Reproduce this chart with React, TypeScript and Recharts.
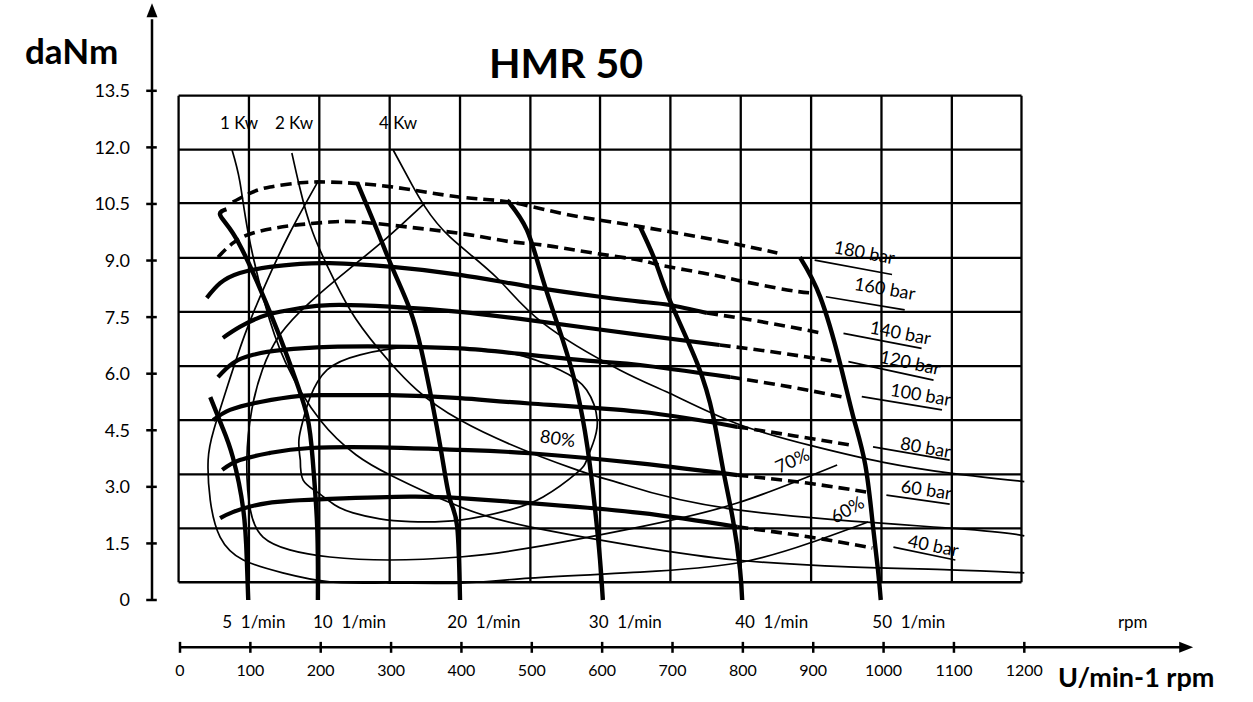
import React from "react";
import { LineChart, Line, XAxis, YAxis, ReferenceLine, ReferenceDot } from "recharts";

type P = [number, number];

const W = 1253;
const H = 702;
const FONT = "Lato, 'Noto Sans', sans-serif";

// axes
const rpmTicks = [0, 100, 200, 300, 400, 500, 600, 700, 800, 900, 1000, 1100, 1200];
const torqueTicks = [0, 1.5, 3, 4.5, 6, 7.5, 9, 10.5, 12, 13.5];

// the printed grid is not aligned with the torque ticks
const gridX = [-2, 98, 198, 298, 398, 498, 597, 697, 797, 897, 997, 1097, 1196];
const gridY = [0.47, 1.9, 3.33, 4.77, 6.2, 7.64, 9.07, 10.52, 11.94, 13.37];

// pressure curves (rpm, daNm)
const p180Dash: P[] = [[75, 10.55], [100, 10.79], [128, 10.95], [171, 11.06], [213, 11.08], [298, 10.96], [394, 10.69], [465, 10.56], [540, 10.26], [611, 10.03], [682, 9.81], [768, 9.52], [849, 9.2]];
const p160Dash: P[] = [[54, 9.09], [75, 9.46], [104, 9.73], [156, 9.92], [213, 10.02], [256, 10.02], [337, 9.86], [412, 9.68], [469, 9.5], [516, 9.41], [587, 9.2], [654, 9.01], [682, 8.88], [743, 8.67], [792, 8.48], [863, 8.22], [900, 8.14]];
const p140Solid: P[] = [[38, 8.01], [57, 8.4], [85, 8.67], [128, 8.83], [171, 8.91], [213, 8.93], [298, 8.84], [398, 8.62], [497, 8.31], [597, 8.04], [654, 7.91], [696, 7.82], [749, 7.61]];
const p140Dash: P[] = [[749, 7.61], [838, 7.34], [911, 7.08]];
const p120Solid: P[] = [[61, 6.95], [85, 7.24], [124, 7.56], [171, 7.74], [213, 7.82], [298, 7.78], [398, 7.64], [497, 7.42], [654, 7.03], [767, 6.76]];
const p120Dash: P[] = [[767, 6.76], [853, 6.55], [934, 6.31]];
const p100Solid: P[] = [[54, 5.91], [75, 6.28], [104, 6.5], [146, 6.63], [213, 6.71], [298, 6.72], [398, 6.67], [497, 6.5], [597, 6.32], [654, 6.23], [782, 5.91]];
const p100Dash: P[] = [[782, 5.91], [867, 5.65], [942, 5.38]];
const p80Solid: P[] = [[47, 4.77], [71, 5.04], [114, 5.25], [171, 5.41], [213, 5.43], [298, 5.43], [398, 5.35], [497, 5.21], [654, 4.99], [792, 4.59]];
const p80Dash: P[] = [[792, 4.59], [874, 4.35], [952, 4.11]];
const p60Solid: P[] = [[60, 3.45], [85, 3.71], [128, 3.9], [185, 4.03], [298, 4.04], [398, 3.98], [497, 3.89], [654, 3.62], [792, 3.31]];
const p60Dash: P[] = [[792, 3.31], [891, 3.1], [976, 2.86]];
const p40Solid: P[] = [[57, 2.17], [75, 2.33], [124, 2.57], [213, 2.68], [327, 2.74], [398, 2.7], [497, 2.57], [654, 2.31], [792, 1.94]];
const p40Dash: P[] = [[792, 1.94], [895, 1.67], [984, 1.38]];

// constant speed curves, top to bottom
const n5: P[] = [[43, 5.38], [60, 4.59], [75, 3.79], [90, 2.39], [95, 1.06], [97, 0]];
const n10: P[] = [[66, 10.36], [57, 10.21], [75, 9.73], [104, 8.67], [138, 7.16], [161, 6.02], [181, 4.85], [189, 3.63], [195, 1.94], [196, 0]];
const n20: P[] = [[252, 11.06], [280, 9.81], [303, 8.75], [327, 7.69], [343, 6.63], [355, 5.57], [365, 4.59], [374, 3.63], [384, 2.65], [394, 1.94], [398, 0]];
const n30: P[] = [[465, 10.6], [493, 9.81], [516, 8.48], [544, 6.89], [564, 5.57], [579, 4.06], [590, 2.39], [597, 1.06], [601, 0]];
const n40: P[] = [[654, 9.89], [675, 9.01], [696, 7.95], [735, 6.28], [758, 4.85], [772, 3.45], [786, 2.12], [796, 0.8], [799, 0]];
const n50: P[] = [[881, 9.09], [910, 8.03], [938, 6.28], [957, 4.85], [974, 3.58], [985, 1.94], [992, 0.8], [996, 0]];

// power curves
const kw1: P[] = [[74, 11.93], [85, 11.1], [97, 9.72], [120, 7.9], [150, 6.3], [200, 4.75], [250, 3.85], [300, 3.3], [398, 2.47], [497, 1.94], [654, 1.41], [791, 1.06], [950, 0.88], [1094, 0.8], [1200, 0.72]];
const kw2: P[] = [[159, 11.85], [170, 10.95], [189, 9.73], [220, 8.45], [250, 7.45], [298, 6.31], [398, 4.77], [564, 3.45], [625, 3.1], [792, 2.39], [1100, 1.9], [1200, 1.7]];
const kw4: P[] = [[303, 11.93], [330, 11.0], [348, 10.43], [384, 9.62], [450, 8.55], [516, 7.34], [625, 6.1], [696, 5.48], [791, 4.68], [900, 4.08], [1000, 3.65], [1100, 3.35], [1200, 3.14]];

// efficiency contours
const eff80: P[] = [[171, 3.71], [175, 3.18], [195, 2.86], [220, 2.52], [246, 2.31], [284, 2.15], [327, 2.08], [398, 2.12], [469, 2.39], [516, 2.73], [564, 3.37], [578, 3.71], [587, 4.15], [593, 4.77], [578, 5.57], [540, 6.1], [469, 6.55], [398, 6.68], [327, 6.71], [256, 6.5], [209, 6.1], [185, 5.38], [175, 4.77], [169, 4.24], [171, 3.71]];
const eff70: P[] = [[348, 10.52], [294, 9.6], [242, 8.8], [185, 7.9], [142, 7.03], [117, 6.1], [102, 5.04], [95, 3.71], [100, 2.39], [118, 1.67], [156, 1.33], [213, 1.14], [298, 1.06], [398, 1.14], [497, 1.38], [654, 1.94], [792, 2.57], [934, 3.58]];
const eff60: P[] = [[195, 11.06], [156, 9.73], [121, 8.35], [92, 7.03], [68, 5.7], [48, 4.51], [40, 3.71], [43, 2.65], [57, 1.67], [90, 1.06], [146, 0.72], [213, 0.48], [298, 0.45], [398, 0.45], [497, 0.58], [654, 0.74], [792, 0.98], [895, 1.51], [978, 2.07]];

// pressure labels and their underlines
const barNames = ["180 bar", "160 bar", "140 bar", "120 bar", "100 bar", "80 bar", "60 bar", "40 bar"];
const barLabelAt: P[] = [[973, 9.23], [1002, 8.27], [1024, 7.1], [1038, 6.31], [1053, 5.46], [1060, 4.06], [1061, 2.94], [1071, 1.46]];
const barLabelRot = [10.5, 9.6, 10.8, 12, 9.5, 10, 8.3, 11.6];
const barUnderlines: P[][] = [
  [[902, 9.01], [1012, 8.63]],
  [[918, 8.04], [1030, 7.69]],
  [[943, 7.07], [1054, 6.67]],
  [[950, 6.32], [1071, 5.83]],
  [[969, 5.39], [1083, 5.04]],
  [[985, 4.06], [1094, 3.71]],
  [[1004, 2.78], [1094, 2.54]],
  [[1014, 1.4], [1102, 1.06]],
];

const effNames = ["80%", "70%", "60%"];
const effLabelAt: P[] = [[537, 4.3], [870, 3.71], [948, 2.41]];
const effLabelRot = [8, -25, -30];

const kwNames = ["1 Kw", "2 Kw", "4 Kw"];
const kwLabelAt: P[] = [[84, 12.65], [162, 12.65], [310, 12.65]];

const speedNames = ["5  1/min", "10  1/min", "20  1/min", "30  1/min", "40  1/min", "50  1/min", "rpm"];
const speedLabelX = [60, 189, 380, 581, 789, 984, 1333];
const speedLabelY = -0.58;

const toPts = (arr: P[]) => arr.map(([x, y]) => ({ x, y }));

const thick = 4.2;
const thin = 1.7;
const dash = "11 6";

const solidPressure = [p140Solid, p120Solid, p100Solid, p80Solid, p60Solid, p40Solid];
const dashedPressure = [p180Dash, p160Dash, p140Dash, p120Dash, p100Dash, p80Dash, p60Dash, p40Dash];
const speeds = [n5, n10, n20, n30, n40, n50];
const powers = [kw1, kw2, kw4];
const effs = [eff80, eff70, eff60];

// axis geometry in data units
const yAxisX = -39.8;
const xAxisY = -1.254;

const textShape = (label: string, size: number, rot = 0, anchor: "start" | "middle" = "middle") => (p: any) => (
  <text
    x={p.cx}
    y={p.cy}
    textAnchor={anchor}
    dominantBaseline="central"
    fontSize={size}
    fontFamily={FONT}
    fill="#000"
    style={{ whiteSpace: "pre" }}
    transform={rot ? `rotate(${rot} ${p.cx} ${p.cy})` : undefined}
  >
    {label}
  </text>
);

export default function App() {
  return (
    <div style={{ position: "absolute", left: 0, top: 0, width: W, height: H, background: "#fff" }}>
      <LineChart width={W} height={H} margin={{ top: 90.8, right: 228.7, bottom: 0, left: 0 }} style={{ fontFamily: FONT }}>
        <XAxis
          type="number"
          dataKey="x"
          domain={[0, 1200]}
          ticks={rpmTicks}
          interval={0}
          height={102}
          axisLine={false}
          tickLine={false}
          tickMargin={59}
          tick={{ fill: "#000", fontSize: 16, fontFamily: FONT }}
        />
        <YAxis
          type="number"
          domain={[0, 13.5]}
          ticks={torqueTicks}
          interval={0}
          width={180}
          axisLine={false}
          tickLine={false}
          tickMargin={44}
          tick={{ fill: "#000", fontSize: 18, fontFamily: FONT }}
          tickFormatter={(v: number) => (v === 0 ? "0" : v.toFixed(1))}
        />

        {gridX.map((gx) => (
          <ReferenceLine key={`gx${gx}`} segment={[{ x: gx, y: gridY[0] }, { x: gx, y: gridY[gridY.length - 1] }]} stroke="#000" strokeWidth={2.3} ifOverflow="visible" />
        ))}
        {gridY.map((gy) => (
          <ReferenceLine key={`gy${gy}`} segment={[{ x: gridX[0], y: gy }, { x: gridX[gridX.length - 1], y: gy }]} stroke="#000" strokeWidth={2.3} ifOverflow="visible" />
        ))}

        {/* axes with arrows */}
        <ReferenceLine segment={[{ x: yAxisX, y: 0 }, { x: yAxisX, y: 15.4 }]} stroke="#000" strokeWidth={2.5} ifOverflow="visible" />
        {torqueTicks.map((t) => (
          <ReferenceLine key={`yt${t}`} segment={[{ x: -48, y: t }, { x: -33, y: t }]} stroke="#000" strokeWidth={2.5} ifOverflow="visible" />
        ))}
        <ReferenceDot
          x={yAxisX}
          y={15.82}
          r={0}
          ifOverflow="visible"
          shape={(p: any) => <polygon points={`${p.cx},${p.cy} ${p.cx - 5.5},${p.cy + 14} ${p.cx + 5.5},${p.cy + 14}`} fill="#000" />}
        />
        <ReferenceLine segment={[{ x: 0, y: xAxisY }, { x: 1425, y: xAxisY }]} stroke="#000" strokeWidth={2.5} ifOverflow="visible" />
        {rpmTicks.map((t) => (
          <ReferenceLine key={`xt${t}`} segment={[{ x: t, y: -1.11 }, { x: t, y: -1.4 }]} stroke="#000" strokeWidth={2.5} ifOverflow="visible" />
        ))}
        <ReferenceDot
          x={1440}
          y={xAxisY}
          r={0}
          ifOverflow="visible"
          shape={(p: any) => <polygon points={`${p.cx},${p.cy} ${p.cx - 14},${p.cy - 5.5} ${p.cx - 14},${p.cy + 5.5}`} fill="#000" />}
        />

        {/* efficiency and power curves */}
        {effs.map((d, i) => (
          <Line key={`eff${i}`} data={toPts(d)} dataKey="y" type="natural" stroke="#000" strokeWidth={thin} dot={false} activeDot={false} isAnimationActive={false} />
        ))}
        {powers.map((d, i) => (
          <Line key={`kw${i}`} data={toPts(d)} dataKey="y" type="natural" stroke="#000" strokeWidth={thin} dot={false} activeDot={false} isAnimationActive={false} />
        ))}
        {barUnderlines.map((d, i) => (
          <Line key={`ul${i}`} data={toPts(d)} dataKey="y" type="linear" stroke="#000" strokeWidth={thin} dot={false} activeDot={false} isAnimationActive={false} />
        ))}

        {/* pressure curves */}
        {solidPressure.map((d, i) => (
          <Line key={`ps${i}`} data={toPts(d)} dataKey="y" type="natural" stroke="#000" strokeWidth={thick} dot={false} activeDot={false} isAnimationActive={false} />
        ))}
        {dashedPressure.map((d, i) => (
          <Line key={`pd${i}`} data={toPts(d)} dataKey="y" type="natural" stroke="#000" strokeWidth={3.6} strokeDasharray={dash} dot={false} activeDot={false} isAnimationActive={false} />
        ))}

        {/* speed curves */}
        {speeds.map((d, i) => (
          <Line key={`n${i}`} data={toPts(d)} dataKey="y" type="natural" stroke="#000" strokeWidth={4.4} dot={false} activeDot={false} isAnimationActive={false} />
        ))}

        {/* labels */}
        {barNames.map((s, i) => (
          <ReferenceDot key={s} x={barLabelAt[i][0]} y={barLabelAt[i][1]} r={0} ifOverflow="visible" shape={textShape(s, 18, barLabelRot[i])} />
        ))}
        {effNames.map((s, i) => (
          <ReferenceDot key={s} x={effLabelAt[i][0]} y={effLabelAt[i][1]} r={0} ifOverflow="visible" shape={textShape(s, 18, effLabelRot[i])} />
        ))}
        {kwNames.map((s, i) => (
          <ReferenceDot key={s} x={kwLabelAt[i][0]} y={kwLabelAt[i][1]} r={0} ifOverflow="visible" shape={textShape(s, 17)} />
        ))}
        {speedNames.map((s, i) => (
          <ReferenceDot key={s} x={speedLabelX[i]} y={speedLabelY} r={0} ifOverflow="visible" shape={textShape(s, 17, 0, "start")} />
        ))}
      </LineChart>
      <svg width={W} height={H} style={{ position: "absolute", left: 0, top: 0, pointerEvents: "none" }}>
        <text x={25} y={64} fontSize={35} fontWeight={700} fontFamily={FONT} fill="#000">daNm</text>
        <text x={566} y={78} fontSize={41} fontWeight={700} fontFamily={FONT} fill="#000" textAnchor="middle">HMR 50</text>
        <text x={1058} y={687} fontSize={27} fontWeight={700} fontFamily={FONT} fill="#000">U/min-1 rpm</text>
      </svg>
    </div>
  );
}
